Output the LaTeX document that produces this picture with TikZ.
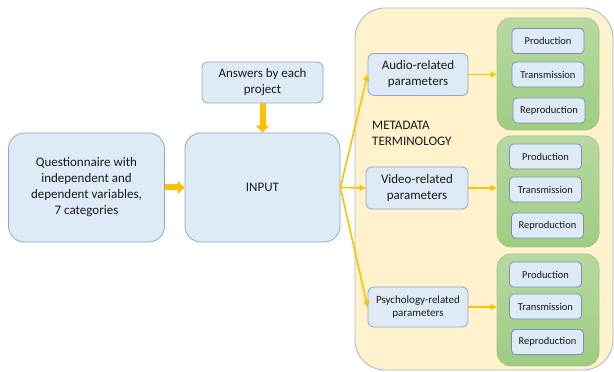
\documentclass[tikz,border=0pt]{standalone}
\usepackage{fontspec}
\setmainfont{Carlito}
\usetikzlibrary{arrows.meta}

\definecolor{boxFill}{RGB}{222,235,247}
\definecolor{boxDraw}{RGB}{140,168,204}
\definecolor{stageDraw}{RGB}{118,146,180}
\definecolor{metaFill}{RGB}{255,242,204}
\definecolor{metaDraw}{RGB}{165,180,205}
\definecolor{groupTop}{RGB}{184,217,162}
\definecolor{groupBottom}{RGB}{158,204,128}
\definecolor{groupDraw}{RGB}{160,200,135}
\definecolor{arrowColor}{RGB}{255,192,0}

\tikzset{
  bluebox/.style={draw=boxDraw,fill=boxFill,line width=0.8pt,rounded corners=6pt,
    align=center,inner sep=2pt,text=black!90},
  bigbox/.style={bluebox,rounded corners=16pt,minimum width=156pt,minimum height=109pt,
    font=\fontsize{13}{16}\selectfont},
  parambox/.style={bluebox,minimum width=100pt,minimum height=42pt},
  stagebox/.style={bluebox,draw=stageDraw,rounded corners=4pt,minimum width=72pt,minimum height=25pt,
    font=\fontsize{10.5}{12}\selectfont},
  groupbox/.style={draw=groupDraw,top color=groupTop,bottom color=groupBottom,line width=0.8pt,
    rounded corners=14pt,minimum width=102pt,minimum height=112pt},
  fatarrow/.style={draw=arrowColor,line width=6pt,-{Triangle[width=13pt,length=7pt]}},
  thinarrow/.style={draw=arrowColor,line width=1.6pt,-{Triangle[width=6pt,length=6pt]}},
}

\begin{document}
\begin{tikzpicture}[x=1pt,y=1pt]
\path[use as bounding box,fill=white] (0,0) rectangle (614,372);

% metadata area
\path[draw=metaDraw,fill=metaFill,line width=0.8pt,rounded corners=30pt] (355,2) rectangle (613,364);
\node[anchor=north west,align=left,inner sep=0pt,font=\fontsize{13}{15.5}\selectfont,text=black!90]
  (terms) at (372,251) {METADATA\\TERMINOLOGY};

% inputs
\node[bigbox] (quest) at (86.5,184.5) {Questionnaire with\\independent and\\dependent variables,\\7 categories};
\node[bigbox,minimum width=155pt] (input) at (262.5,184.5) {INPUT};
\node[bluebox,minimum width=121pt,minimum height=41pt,font=\fontsize{13}{16}\selectfont]
  (answers) at (262.5,289.5) {Answers by each\\project};

% parameter groups
\node[parambox,font=\fontsize{13}{16}\selectfont] (audio) at (418,297.5) {Audio-related\\parameters};
\node[parambox,minimum width=102pt,font=\fontsize{13}{16}\selectfont] (video) at (417,184) {Video-related\\parameters};
\node[parambox,minimum height=40pt,font=\fontsize{11}{13.5}\selectfont] (psych) at (418,65) {Psychology-related\\parameters};

\node[groupbox] (audiogrp) at (548,298) {};
\node[groupbox,minimum height=111pt] (videogrp) at (548,180.5) {};
\node[groupbox] (psychgrp) at (548,62) {};

\node[stagebox] (audioprod) at (548,331) {Production};
\node[stagebox] (audiotrans) at (548,297.5) {Transmission};
\node[stagebox] (audiorepr) at (549,261.5) {Reproduction};

\node[stagebox] (videoprod) at (545.5,215.5) {Production};
\node[stagebox] (videotrans) at (545.5,182.5) {Transmission};
\node[stagebox] (videorepr) at (547.5,146.5) {Reproduction};

\node[stagebox] (psychprod) at (545.5,97.5) {Production};
\node[stagebox] (psychtrans) at (545.5,65.5) {Transmission};
\node[stagebox] (psychrepr) at (547.5,30) {Reproduction};

% connectors
\draw[fatarrow] (answers.south) -- (input.north);
\draw[fatarrow] (quest.east) -- (input.west);

\draw[thinarrow] (input.east) -- (audio.west);
\draw[thinarrow] (input.east) -- (video.west);
\draw[thinarrow] (input.east) -- (psych.west);

\draw[thinarrow] (audio.east) -- (audiogrp.west |- audio.east);
\draw[thinarrow] (video.east) -- (videogrp.west |- video.east);
\draw[thinarrow] (psych.east) -- (psychgrp.west |- psych.east);
\end{tikzpicture}
\end{document}
